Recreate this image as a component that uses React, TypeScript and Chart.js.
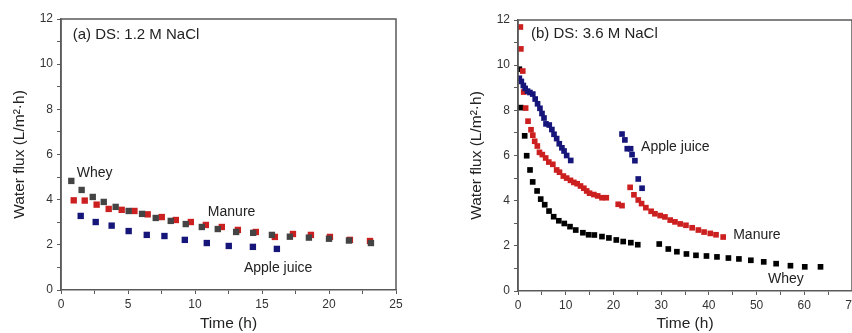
import React, { useEffect, useRef } from 'react';
import { Chart, registerables } from 'chart.js';

Chart.register(...registerables);

const FONT = '"Liberation Sans", Arial, sans-serif';

// ---------- Panel (a): DS 1.2 M NaCl ----------
const aWheyTime = [0.77, 1.54, 2.37, 3.19, 4.08, 5.05, 6.05, 7.07, 8.19, 9.31, 10.51, 11.7, 13.07, 14.34, 15.74, 17.08, 18.5, 20.0, 21.49, 23.13];
const aWheyFlux = [4.83, 4.43, 4.12, 3.9, 3.68, 3.5, 3.37, 3.19, 3.06, 2.92, 2.79, 2.7, 2.57, 2.53, 2.44, 2.36, 2.32, 2.27, 2.19, 2.08];
const aManureTime = [0.95, 1.77, 2.66, 3.56, 4.53, 5.48, 6.47, 7.52, 8.57, 9.69, 10.81, 12.0, 13.2, 14.54, 15.96, 17.31, 18.65, 20.07, 21.56, 23.06];
const aManureFlux = [3.97, 3.96, 3.78, 3.59, 3.55, 3.5, 3.35, 3.23, 3.1, 3.01, 2.88, 2.79, 2.66, 2.57, 2.35, 2.48, 2.44, 2.35, 2.22, 2.17];
const aAppleTime = [1.47, 2.59, 3.78, 5.05, 6.4, 7.72, 9.24, 10.88, 12.52, 14.32, 16.11];
const aAppleFlux = [3.28, 3.01, 2.85, 2.61, 2.44, 2.39, 2.22, 2.08, 1.95, 1.91, 1.82];

// ---------- Panel (b): DS 3.6 M NaCl ----------
const bWheyTime = [0.28, 0.56, 1.4, 1.82, 2.52, 3.08, 4.0, 4.76, 5.6, 6.5, 7.48, 8.55, 9.7, 10.9, 12.1, 13.6, 14.8, 16.0, 17.6, 19.05, 20.6, 22.05, 23.65, 25.1, 29.6, 31.5, 33.3, 35.3, 37.3, 39.5, 41.7, 44.1, 46.3, 48.8, 51.5, 54.1, 57.1, 60.1, 63.4];
const bWheyFlux = [9.82, 8.12, 6.87, 5.99, 5.36, 4.83, 4.43, 4.07, 3.82, 3.54, 3.29, 3.11, 2.99, 2.85, 2.7, 2.58, 2.49, 2.48, 2.41, 2.35, 2.26, 2.19, 2.14, 2.05, 2.08, 1.86, 1.74, 1.64, 1.58, 1.55, 1.51, 1.46, 1.42, 1.36, 1.29, 1.21, 1.12, 1.07, 1.07];
const bManureTime = [0.5, 0.6, 1.0, 1.2, 1.6, 2.1, 2.73, 3.1, 3.5, 4.05, 4.5, 5.1, 5.8, 6.45, 7.3, 8.1, 8.7, 9.5, 10.2, 11.0, 11.7, 12.4, 13.1, 13.8, 14.4, 15.0, 15.9, 16.7, 17.6, 18.5, 21.0, 21.8, 23.5, 24.3, 25.2, 25.9, 26.8, 27.9, 28.7, 29.8, 30.8, 31.9, 32.9, 34.0, 35.2, 36.5, 37.8, 39.0, 40.3, 41.5, 43.0];
const bManureFlux = [11.69, 10.72, 9.74, 8.81, 8.1, 7.52, 7.14, 6.9, 6.63, 6.42, 6.14, 6.04, 5.89, 5.71, 5.61, 5.36, 5.26, 5.09, 5.0, 4.9, 4.81, 4.75, 4.65, 4.55, 4.43, 4.33, 4.27, 4.21, 4.13, 4.13, 3.84, 3.78, 4.59, 4.26, 4.03, 3.87, 3.69, 3.53, 3.42, 3.34, 3.28, 3.14, 3.06, 2.97, 2.91, 2.8, 2.7, 2.61, 2.55, 2.49, 2.39];
const bAppleTime = [0.28, 0.7, 1.12, 1.5, 2.0, 2.5, 3.1, 3.6, 4.1, 4.6, 5.03, 5.45, 5.87, 6.55, 7.1, 7.55, 8.1, 8.65, 9.2, 9.65, 10.2, 11.05, 21.8, 22.4, 22.9, 23.6, 23.9, 24.5, 25.2, 26.0];
const bAppleFlux = [9.42, 9.28, 9.1, 8.97, 8.85, 8.79, 8.72, 8.5, 8.29, 8.09, 7.86, 7.66, 7.4, 7.35, 7.15, 6.94, 6.75, 6.52, 6.34, 6.2, 6.0, 5.78, 6.95, 6.69, 6.3, 6.3, 6.04, 5.77, 4.96, 4.55];

// annotation texts
const aNotes = [
  { text: '(a) DS: 1.2 M NaCl', x: 0.87, y: 11.31, size: 15 },
  { text: 'Whey', x: 1.17, y: 5.19, size: 14 },
  { text: 'Manure', x: 10.96, y: 3.46, size: 14 },
  { text: 'Apple juice', x: 13.65, y: 0.98, size: 14 },
];
const bNotes = [
  { text: '(b) DS: 3.6 M NaCl', x: 2.73, y: 11.38, size: 15 },
  { text: 'Apple juice', x: 25.8, y: 6.38, size: 14 },
  { text: 'Manure', x: 45.1, y: 2.48, size: 14 },
  { text: 'Whey', x: 52.4, y: 0.53, size: 14 },
];

const RED = '#cc1f1f';
const NAVY = '#15157a';

const zip = (xs: number[], ys: number[]) => xs.map((x, i) => ({ x, y: ys[i] }));

const notesPlugin = {
  id: 'notes',
  afterDatasetsDraw(chart: any, _args: any, opts: any) {
    const { ctx, scales } = chart;
    ctx.save();
    ctx.fillStyle = '#222';
    ctx.textBaseline = 'middle';
    ctx.textAlign = 'left';
    for (const n of opts.items || []) {
      ctx.font = `${n.size}px ${FONT}`;
      ctx.fillText(n.text, scales.x.getPixelForValue(n.x), scales.y.getPixelForValue(n.y));
    }
    ctx.restore();
  },
};

const framePlugin = {
  id: 'frame',
  afterDraw(chart: any) {
    const { ctx, chartArea } = chart;
    const { left, top, right, bottom } = chartArea;
    ctx.save();
    ctx.strokeStyle = '#5a5a5a';
    ctx.lineWidth = 1.5;
    ctx.beginPath();
    ctx.moveTo(left, bottom);
    ctx.lineTo(left, top);
    ctx.lineTo(right, top);
    ctx.lineTo(right, bottom);
    ctx.stroke();
    ctx.restore();
  },
};

interface PanelSpec {
  xMax: number;
  xStep: number;
  xLabelEvery: number;
  padTop: number;
  padRight: number;
  yAxisWidth: number;
  xAxisHeight: number;
  yTitlePad: number;
  radius: number;
  datasets: any[];
  notes: any[];
}

function buildConfig(p: PanelSpec): any {
  return {
    type: 'scatter',
    data: { datasets: p.datasets },
    plugins: [notesPlugin, framePlugin],
    options: {
      responsive: false,
      animation: false,
      layout: { padding: { top: p.padTop, right: p.padRight, bottom: 0, left: 0 } },
      elements: { point: { pointStyle: 'rect', radius: p.radius, borderWidth: 0 } },
      plugins: {
        legend: { display: false },
        tooltip: { enabled: false },
        notes: { items: p.notes },
      },
      scales: {
        x: {
          type: 'linear',
          min: 0,
          max: p.xMax,
          afterFit: (s: any) => { s.height = p.xAxisHeight; },
          border: { display: true, color: '#5a5a5a', width: 1.5 },
          grid: { drawOnChartArea: false, drawTicks: true, tickLength: 4, color: '#5a5a5a', tickWidth: 1 },
          ticks: {
            stepSize: p.xStep,
            autoSkip: false,
            maxRotation: 0,
            padding: 3,
            color: '#333',
            font: { family: FONT, size: 12 },
            callback: (v: number) => (Math.abs(v % p.xLabelEvery) < 1e-9 ? String(v) : ''),
          },
          title: {
            display: true,
            text: 'Time (h)',
            color: '#222',
            font: { family: FONT, size: 15.5 },
            padding: { top: 0, bottom: 0 },
          },
        },
        y: {
          type: 'linear',
          min: 0,
          max: 12,
          afterFit: (s: any) => { s.width = p.yAxisWidth; },
          border: { display: true, color: '#5a5a5a', width: 1.5 },
          grid: { drawOnChartArea: false, drawTicks: true, tickLength: 4, color: '#5a5a5a', tickWidth: 1 },
          ticks: {
            stepSize: 1,
            autoSkip: false,
            padding: 4,
            color: '#333',
            font: { family: FONT, size: 12 },
            callback: (v: number) => (v % 2 === 0 ? String(v) : ''),
          },
          title: {
            display: true,
            text: 'Water flux (L/m²·h)',
            color: '#222',
            font: { family: FONT, size: 15.5 },
            padding: { top: p.yTitlePad, bottom: 0 },
          },
        },
      },
    },
  };
}

const panelA: PanelSpec = {
  xMax: 25,
  xStep: 2.5,
  xLabelEvery: 5,
  padTop: 19,
  padRight: 30,
  yAxisWidth: 61,
  xAxisHeight: 43,
  yTitlePad: 10.7,
  radius: 4.5,
  notes: aNotes,
  datasets: [
    { label: 'Whey', data: zip(aWheyTime, aWheyFlux), backgroundColor: '#444444', order: 1 },
    { label: 'Manure', data: zip(aManureTime, aManureFlux), backgroundColor: RED, order: 2 },
    { label: 'Apple juice', data: zip(aAppleTime, aAppleFlux), backgroundColor: NAVY, order: 3 },
  ],
};

const panelB: PanelSpec = {
  xMax: 70,
  xStep: 5,
  xLabelEvery: 10,
  padTop: 20,
  padRight: 34,
  yAxisWidth: 92,
  xAxisHeight: 42,
  yTitlePad: 41.7,
  radius: 4.0,
  notes: bNotes,
  datasets: [
    { label: 'Apple juice', data: zip(bAppleTime, bAppleFlux), backgroundColor: NAVY, order: 1 },
    { label: 'Manure', data: zip(bManureTime, bManureFlux), backgroundColor: RED, order: 2 },
    { label: 'Whey', data: zip(bWheyTime, bWheyFlux), backgroundColor: '#000000', order: 3 },
  ],
};

function Panel({ left, width, spec }: { left: number; width: number; spec: PanelSpec }) {
  const ref = useRef<HTMLCanvasElement>(null);
  useEffect(() => {
    const chart = new Chart(ref.current as HTMLCanvasElement, buildConfig(spec));
    return () => chart.destroy();
  }, []);
  return (
    <canvas
      ref={ref}
      width={width}
      height={333}
      style={{ position: 'absolute', left, top: 0, width, height: 333 }}
    />
  );
}

export default function App() {
  return (
    <div
      style={{
        position: 'absolute',
        left: 0,
        top: 0,
        width: 852,
        height: 333,
        overflow: 'hidden',
        background: '#fff',
      }}
    >
      <Panel left={0} width={426} spec={panelA} />
      <Panel left={426} width={460} spec={panelB} />
    </div>
  );
}
